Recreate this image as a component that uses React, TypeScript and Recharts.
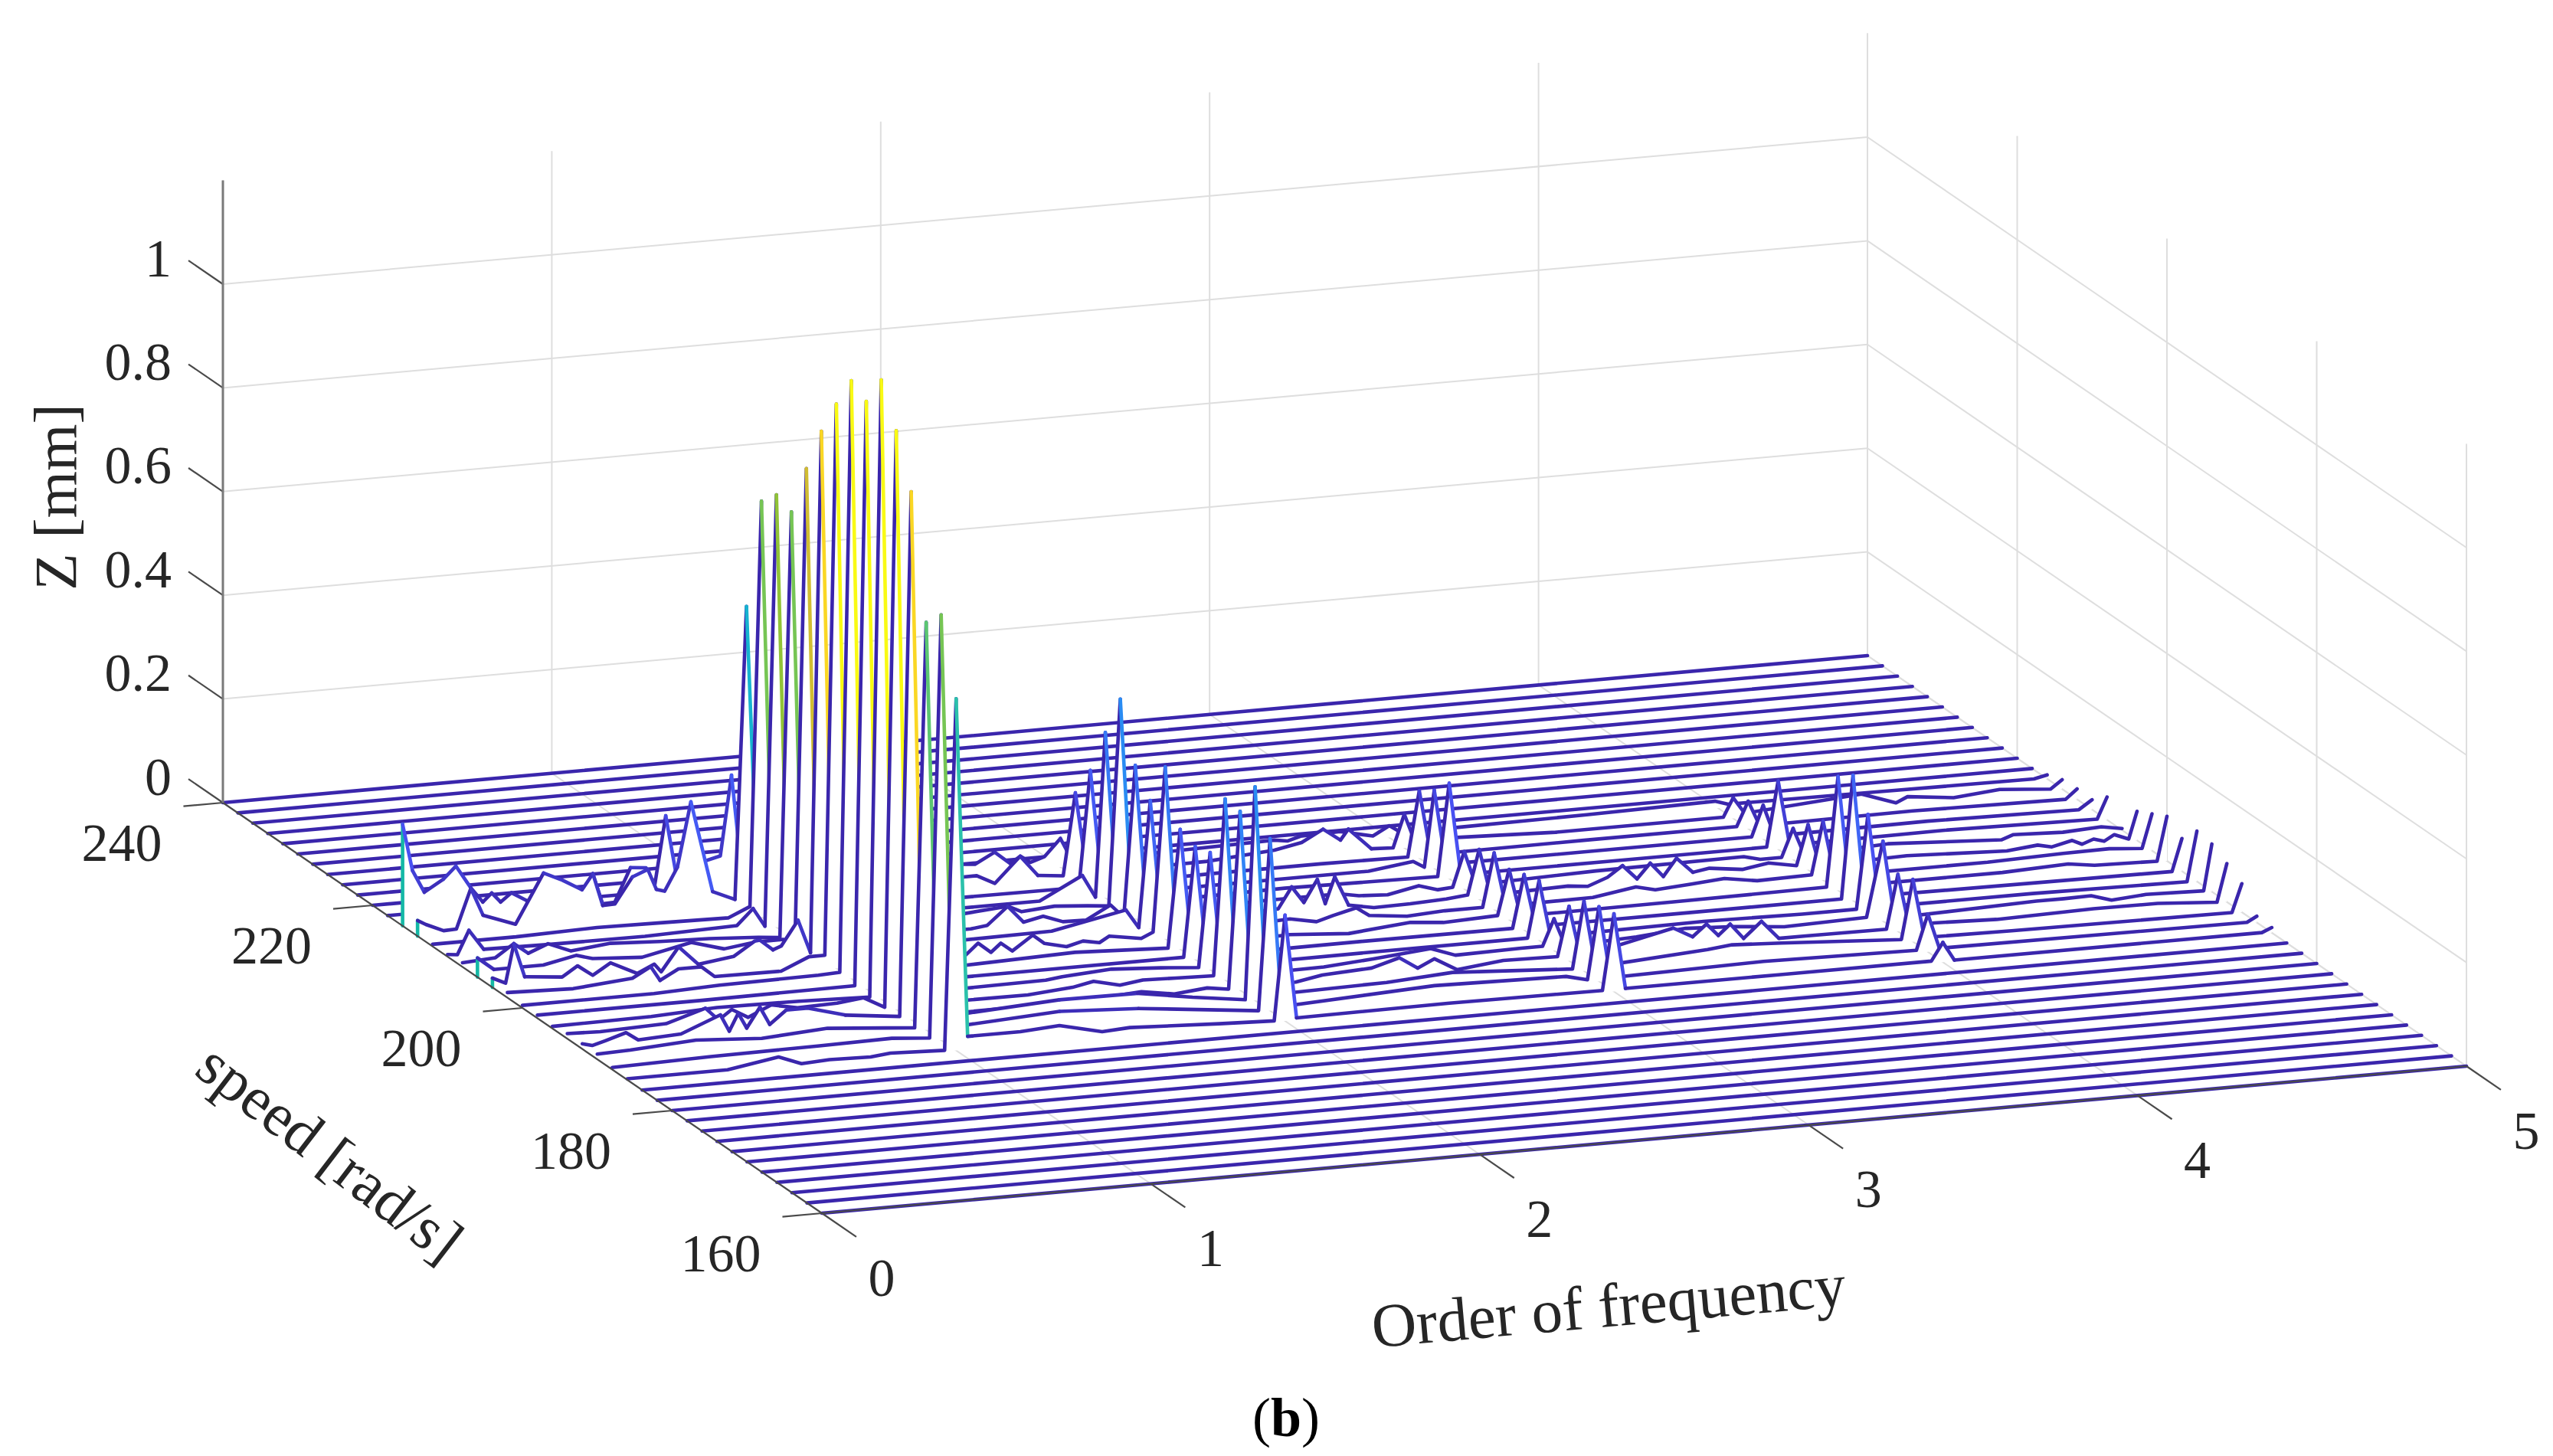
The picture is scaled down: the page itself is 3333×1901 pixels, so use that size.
import React from "react"
import { ComposedChart, Area, XAxis, YAxis, ReferenceDot } from "recharts"

type Pair = [number, number]

const speeds = [240, 238, 236, 234, 232, 230, 228, 226, 224, 222, 220, 218, 216, 214, 212, 210, 208, 206, 204, 202, 200, 198, 196, 194, 192, 190, 188, 186, 184, 182, 180, 178, 176, 174, 172, 170, 168, 166, 164, 162, 160]
const orderTicks = [0, 1, 2, 3, 4, 5]
const speedTicks = [240, 220, 200, 180, 160]
const zTicks = [0, 0.2, 0.4, 0.6, 0.8, 1]

// [order, Z], only the speeds with something on them
const s216: Pair[] = [[0, .196], [.03, .105], [.066, .061], [.124, .083], [.162, .106], [.207, .062], [.244, .032], [.271, .048], [.298, .029], [.331, .045], [.378, .027], [.431, .027], [.485, .006], [.545, .003], [.578, .068], [.608, .008], [.645, .009], [.693, .073], [.74, .07], [.766, .033], [.8, .167], [.83, .058], [.9, .07], [.966, .08], [1, .234], [1.035, .02], [1.4, .015], [1.706, .022], [1.74, .02], [1.8, .04], [1.848, .015], [1.878, .028], [1.908, .014], [1.952, .023], [2, .055], [2.02, .03], [2.06, .008], [2.65, .015], [2.69, .011], [2.73, .018], [2.85, .02], [2.95, .006], [3, .023], [3.035, .008], [3.21, .008], [3.6, .01], [3.99, .014], [4.03, .006], [4.5, .004], [4.96, .002], [5, .0075]]
const s214: Pair[] = [[0, .03], [.025, .021], [.079, .006], [.118, .007], [.162, .083], [.199, .029], [.298, .006], [.383, .1], [.44, .083], [.5, .061], [.533, .09], [.563, .027], [.6, .028], [.653, .077], [.7, .089], [.726, .049], [.751, .044], [.79, .088], [.831, .212], [.897, .035], [.965, .016], [1, .579], [1.035, .012], [1.4, .012], [1.66, .02], [1.7, .02], [1.755, .002], [1.832, .05], [1.886, .01], [1.963, .005], [2, .163], [2.035, .006], [2.4, .008], [2.605, .018], [2.688, .028], [2.753, .05], [2.806, .026], [2.83, .046], [2.9, .004], [2.966, .002], [3, .065], [3.035, .005], [3.16, .011], [3.46, .004], [3.97, .004], [4, .04], [4.035, .008], [4.39, .025], [4.495, .002], [4.53, .012], [4.67, .002], [4.81, .01], [4.965, .002], [5, .018]]
const s212: Pair[] = [[0, .004], [.254, .004], [.5, .008], [.7, .006], [.9, .004], [.965, .022], [1, .802], [1.035, .003], [1.614, .003], [1.965, .002], [2, .226], [2.035, .004], [2.4, .006], [2.7, .006], [2.965, .004], [3, .13], [3.035, .005], [3.5, .006], [3.965, .006], [4, .053], [4.035, .004], [4.5, .006], [4.965, .002], [5, .02]]
const s210: Pair[] = [[0, .004], [.03, .002], [.065, .047], [.11, .008], [.3, .006], [.6, .005], [.88, .01], [.929, .04], [.965, .004], [1, .834], [1.035, .004], [1.57, .005], [1.8, .005], [1.93, .047], [1.97, .003], [2, .319], [2.035, .005], [2.5, .006], [2.8, .006], [2.936, .017], [2.97, .004], [3, .151], [3.035, .006], [3.5, .006], [3.965, .006], [4, .065], [4.035, .004], [4.5, .006], [4.96, .002], [5, .019]]
const s208: Pair[] = [[0, .008], [.1, .012], [.156, .036], [.2, .015], [.26, .03], [.33, .012], [.45, .02], [.6, .015], [.75, .012], [.9, .006], [.965, .002], [1, .821], [1.035, .005], [1.4, .01], [1.658, .023], [1.7, .01], [1.8, .015], [1.9, .01], [1.965, .006], [2, .403], [2.035, .006], [2.5, .01], [2.965, .006], [3, .184], [3.035, .006], [3.5, .006], [3.965, .006], [4, .132], [4.035, .006], [4.5, .008], [4.97, .003], [5, .044]]
const s206: Pair[] = [[0, .037], [.05, .012], [.2, .012], [.3, .025], [.35, .016], [.5, .01], [.65, .03], [.75, .012], [.85, .02], [.93, .02], [.965, .005], [1, .924], [1.035, .006], [1.5, .008], [1.55, .012], [1.612, .045], [1.66, .012], [1.72, .02], [1.78, .006], [1.85, .005], [1.925, .03], [1.965, .004], [2, .295], [2.035, .006], [2.4, .012], [2.62, .012], [2.68, .005], [2.767, .002], [2.862, .014], [2.92, .003], [2.965, .005], [3, .072], [3.035, .006], [3.4, .012], [3.85, .014], [3.9, .006], [3.965, .006], [4, .06], [4.035, .006], [4.288, .014], [4.633, .002], [4.67, .01], [4.82, .006], [4.937, .01], [5, .003]]
const s204: Pair[] = [[0, .018], [.04, .006], [.065, .08], [.098, .015], [.212, .008], [.259, .027], [.305, .006], [.359, .027], [.44, .002], [.492, .017], [.513, .001], [.566, .046], [.626, .009], [.733, .018], [.797, .044], [.813, .045], [.853, .024], [.878, .03], [.929, .077], [.967, .012], [1, 1.016], [1.035, .006], [1.4, .01], [1.7, .012], [1.926, .04], [1.965, .004], [2, .247], [2.035, .006], [2.389, .016], [2.43, .056], [2.467, .024], [2.508, .066], [2.532, .018], [2.561, .068], [2.603, .011], [2.68, .002], [2.79, .003], [2.9, .006], [2.965, .01], [3, .096], [3.035, .006], [3.27, .01], [3.33, .006], [3.39, .02], [3.436, .04], [3.48, .012], [3.52, .04], [3.56, .012], [3.6, .045], [3.65, .015], [3.7, .02], [3.8, .012], [3.88, .02], [3.965, .01], [4, .087], [4.035, .006], [4.3, .01], [4.604, .002], [4.698, .008], [4.74, .002], [4.803, .011], [4.833, .002], [4.868, .01], [4.9, .004], [4.931, .015], [4.975, .004], [5, .056]]
const s202: Pair[] = [[0, .01], [.2, .006], [.38, .016], [.436, .035], [.464, .007], [.52, .026], [.59, .026], [.63, .005], [.832, .004], [.917, .027], [.965, .027], [1, 1.088], [1.035, .006], [1.393, .003], [1.431, .024], [1.47, .004], [1.5, .02], [1.535, .003], [1.597, .03], [1.633, .012], [1.7, .002], [1.75, .01], [1.8, .004], [1.83, .015], [1.927, .005], [1.963, .015], [2, .332], [2.035, .006], [2.379, .017], [2.46, .007], [2.51, .016], [2.581, .027], [2.62, .01], [2.735, .002], [2.85, .006], [2.965, .006], [3, .109], [3.035, .005], [3.3, .006], [3.431, .019], [3.49, .01], [3.6, .015], [3.7, .02], [3.8, .01], [3.965, .012], [4, .114], [4.035, .006], [4.5, .006], [4.73, .01], [4.87, .011], [4.97, .006], [5, .071]]
const s200: Pair[] = [[0, .005], [.4, .005], [.6, .01], [.9, .012], [.965, .014], [1, 1.153], [1.035, .006], [1.347, .006], [1.68, .012], [1.963, .004], [2, .231], [2.035, .004], [2.334, .009], [2.512, .001], [2.7, .012], [2.8, .006], [2.965, .01], [3, .097], [3.035, .005], [3.5, .006], [3.965, .008], [4, .22], [4.035, .006], [4.5, .006], [4.7, .011], [4.78, .004], [4.97, .001], [5, .086]]
const s198: Pair[] = [[0, .006], [.5, .006], [.965, .008], [1, 1.133], [1.035, .006], [1.5, .006], [1.965, .006], [2, .218], [2.035, .005], [2.5, .006], [2.965, .005], [3, .107], [3.035, .005], [3.5, .005], [3.965, .005], [4, .242], [4.035, .005], [4.97, .001], [5, .063]]
const s196: Pair[] = [[0, .004], [.3, .006], [.5, .012], [.75, .01], [.965, .006], [1, 1.194], [1.035, .005], [1.5, .008], [1.55, .012], [1.7, .018], [1.85, .012], [1.965, .006], [2, .226], [2.035, .005], [2.5, .006], [2.965, .006], [3, .115], [3.035, .005], [3.5, .008], [3.8, .005], [3.965, .005], [4, .186], [4.035, .005], [4.5, .005], [4.97, .001], [5, .097]]
const s194: Pair[] = [[0, .01], [.1, .008], [.3, .012], [.42, .035], [.46, .01], [.5, .028], [.55, .01], [.62, .03], [.7, .02], [.82, .022], [.9, .028], [.965, .006], [1, 1.116], [1.035, .006], [1.4, .005], [1.536, .012], [1.6, .02], [1.68, .008], [1.75, .014], [1.85, .012], [1.965, .01], [2, .349], [2.035, .006], [2.3, .008], [2.45, .015], [2.625, .025], [2.7, .008], [2.9, .01], [2.965, .01], [3, .061], [3.035, .006], [3.25, .012], [3.4, .02], [3.55, .015], [3.7, .006], [3.95, .01], [4, .154], [4.035, .004], [4.466, .012], [4.55, .012], [4.633, .013], [4.695, .001], [4.8, .006], [4.975, .003], [5, .092]]
const s192: Pair[] = [[0, .01], [.03, .005], [.07, .012], [.133, .024], [.17, .008], [.3, .012], [.42, .042], [.447, .009], [.474, .042], [.5, .012], [.54, .05], [.57, .015], [.62, .04], [.686, .04], [.8, .02], [.965, .008], [1, 1.018], [1.035, .005], [1.5, .006], [1.7, .014], [1.8, .004], [1.9, .01], [1.965, .004], [2, .345], [2.035, .005], [2.169, .006], [2.25, .015], [2.4, .02], [2.484, .035], [2.54, .012], [2.591, .027], [2.66, .002], [2.8, .012], [2.965, .01], [3, .105], [3.035, .005], [3.317, .045], [3.376, .025], [3.418, .047], [3.454, .023], [3.49, .043], [3.531, .013], [3.585, .043], [3.638, .007], [3.72, .007], [3.965, .006], [4, .11], [4.035, .004], [4.11, .01], [4.3, .006], [4.594, .01], [4.79, .009], [4.97, .001], [5, .074]]
const s190: Pair[] = [[0, .01], [.1, .012], [.3, .02], [.5, .012], [.7, .02], [.965, .006], [1, .786], [1.035, .01], [1.125, .025], [1.405, .035], [1.643, .034], [1.81, .017], [1.97, .003], [2, .412], [2.035, .008], [2.4, .012], [2.6, .02], [2.965, .006], [3, .135], [3.035, .006], [3.376, .02], [3.45, .025], [3.6, .02], [3.965, .006], [4, .12], [4.035, .006], [4.3, .004], [4.97, .001], [5, .055]]
const s188: Pair[] = [[0, .004], [.3, .008], [.63, .01], [.85, .012], [.965, .006], [1, .82], [1.035, .012], [1.08, .025], [1.36, .035], [1.6, .027], [1.965, .002], [2, .332], [2.035, .006], [2.5, .02], [2.9, .015], [2.965, .005], [3, .144], [3.035, .005], [3.5, .01], [3.965, .005], [4, .073], [4.035, .005], [4.97, .002], [5, .012]]
const s186: Pair[] = [[0, .002], [.305, .002], [.46, .018], [.53, .001], [.615, .004], [.74, .002], [.8, .006], [.965, .002], [1, .678], [1.035, .025], [1.195, .025], [1.314, .03], [1.444, .011], [1.528, .014], [1.8, .006], [1.967, .002], [2, .204], [2.035, .004], [2.5, .006], [2.965, .004], [3, .15], [3.035, .004], [3.5, .004], [3.965, .004], [4, .038], [4.035, .002], [4.97, .002], [5, .01]]
const flatRow: Pair[] = [[0, 0], [5, 0]]

const rowsBySpeed: Record<number, Pair[]> = {
  216: s216, 214: s214, 212: s212, 210: s210, 208: s208, 206: s206, 204: s204, 202: s202,
  200: s200, 198: s198, 196: s196, 194: s194, 192: s192, 190: s190, 188: s188, 186: s186,
}

const W = 3333
const H = 1901

// MATLAB view of the box, pixels per unit of order, speed and Z
const project = (order: number, speed: number, z: number) => ({
  x: 291 + 429.4 * order + 9.775 * (240 - speed),
  y: 1048 - 38.4 * order + 6.7 * (240 - speed) - 677 * z,
})

const parulaStops = [
  [0, 58, 38, 172], [0.167, 72, 82, 244], [0.333, 46, 135, 247], [0.5, 18, 177, 214],
  [0.667, 55, 200, 151], [0.78, 150, 195, 50], [0.88, 250, 185, 50], [1, 249, 250, 20],
]

const parula = (t: number) => {
  const v = Math.max(0, Math.min(1, t))
  for (let i = 1; i < parulaStops.length; i++) {
    const a = parulaStops[i - 1]
    const b = parulaStops[i]
    if (v <= b[0]) {
      const k = (v - a[0]) / (b[0] - a[0])
      return `rgb(${[1, 2, 3].map((c) => Math.round(a[c] + (b[c] - a[c]) * k)).join(",")})`
    }
  }
  return "rgb(249,250,20)"
}

const CURTAIN = "#14b8a6"
const LEVELS = 32
const CLIM = 1.1

type Seg = { color: string; data: { x: number; y: number }[] }

// a waterfall edge takes the colour of the vertex it starts from
const rowSegments = (speed: number, row: Pair[]): Seg[] => {
  const segs: Seg[] = []
  const first = row[0]
  if (first[1] > 0.01) {
    segs.push({ color: CURTAIN, data: [project(first[0], speed, 0), project(first[0], speed, first[1])] })
  }
  let level = -1
  for (let i = 0; i < row.length - 1; i++) {
    const l = Math.min(LEVELS - 1, Math.floor((row[i][1] / CLIM) * LEVELS))
    const p = project(row[i + 1][0], speed, row[i + 1][1])
    if (l !== level) {
      segs.push({ color: parula(l / (LEVELS - 1)), data: [project(row[i][0], speed, row[i][1]), p] })
      level = l
    } else {
      segs[segs.length - 1].data.push(p)
    }
  }
  return segs
}

const rowFill = (speed: number, row: Pair[]) =>
  row.map(([o, z]) => {
    const top = project(o, speed, z)
    return { x: top.x, band: [top.y, project(o, speed, 0).y] }
  })

const seg = (a: { x: number; y: number }, b: { x: number; y: number }) => [a, b]

const gridLines = [
  ...orderTicks.map((o) => seg(project(o, 240, 0), project(o, 240, 1.2))),
  ...zTicks.map((z) => seg(project(0, 240, z), project(5, 240, z))),
  ...speedTicks.map((s) => seg(project(5, s, 0), project(5, s, 1.2))),
  ...zTicks.map((z) => seg(project(5, 240, z), project(5, 160, z))),
  ...orderTicks.map((o) => seg(project(o, 240, 0), project(o, 160, 0))),
]

const axisLines = [
  ...zTicks.map((z) => seg(project(0, 240, z), project(0, 244.6, z))),
  ...speedTicks.map((s) => seg(project(0, s, 0), project(-0.12, s, 0))),
  ...orderTicks.map((o) => seg(project(o, 160, 0), project(o, 155.4, 0))),
  seg(project(0, 240, 0), project(0, 160, 0)),
  seg(project(0, 160, 0), project(5, 160, 0)),
]

const FONT = "'Liberation Serif', 'Times New Roman', serif"
const TEXT = "#262626"

type Label = { text: string; x: number; y: number; anchor?: string; angle?: number; size?: number }

const labels: Label[] = [
  ...zTicks.map((z) => {
    const p = project(0, 240, z)
    return { text: String(z), x: p.x - 67, y: p.y - 34, anchor: "end" }
  }),
  ...speedTicks.map((s) => {
    const p = project(0, s, 0)
    return { text: String(s), x: p.x - 132, y: p.y + 52 }
  }),
  ...orderTicks.map((o) => {
    const p = project(o, 160, 0)
    return { text: String(o), x: p.x + 78, y: p.y + 84 }
  }),
  { text: "Z [mm]", x: 72, y: 649, angle: -90, size: 79 },
  { text: "speed [rad/s]", x: 431, y: 1505, angle: 37.5, size: 80 },
  { text: "Order of frequency", x: 2100, y: 1705, angle: -5.1, size: 81 },
]

export default function App() {
  return (
    <div style={{ position: "fixed", left: 0, top: 0, width: W, height: H, background: "#fff" }}>
      <ComposedChart width={W} height={H} margin={{ top: 0, right: 0, bottom: 0, left: 0 }}>
        <XAxis type="number" dataKey="x" domain={[0, W]} hide allowDataOverflow />
        <YAxis type="number" domain={[0, H]} reversed hide allowDataOverflow />

        {gridLines.map((d, i) => (
          <Area key={`g${i}`} data={d} dataKey="y" type="linear" fill="none" stroke="#dedede" strokeWidth={2} dot={false} activeDot={false} isAnimationActive={false} />
        ))}

        {speeds.flatMap((s) => {
          const row = rowsBySpeed[s] ?? flatRow
          return [
            <Area key={`f${s}`} data={rowFill(s, row)} dataKey="band" type="linear" fill="#fff" fillOpacity={1} stroke="none" dot={false} activeDot={false} isAnimationActive={false} />,
            ...rowSegments(s, row).map((g, i) => (
              <Area key={`r${s}-${i}`} data={g.data} dataKey="y" type="linear" fill="none" stroke={g.color} strokeWidth={4.6} strokeLinecap="round" strokeLinejoin="round" dot={false} activeDot={false} isAnimationActive={false} />
            )),
          ]
        })}

        {axisLines.map((d, i) => (
          <Area key={`a${i}`} data={d} dataKey="y" type="linear" fill="none" stroke="#4a4a4a" strokeWidth={2.2} dot={false} activeDot={false} isAnimationActive={false} />
        ))}
        <Area data={seg(project(0, 240, 0), project(0, 240, 1.2))} dataKey="y" type="linear" fill="none" stroke="#7a7a7a" strokeWidth={3} dot={false} activeDot={false} isAnimationActive={false} />

        {labels.map((l) => (
          <ReferenceDot
            key={l.text}
            x={l.x}
            y={l.y}
            r={0}
            ifOverflow="visible"
            shape={(p: any) => (
              <text
                x={p.cx}
                y={p.cy}
                fill={TEXT}
                fontFamily={FONT}
                fontSize={l.size ?? 70}
                textAnchor={l.anchor ?? "middle"}
                dominantBaseline="central"
                transform={l.angle ? `rotate(${l.angle} ${p.cx} ${p.cy})` : undefined}
              >
                {l.text}
              </text>
            )}
          />
        ))}
        <ReferenceDot
          x={1679}
          y={1851}
          r={0}
          ifOverflow="visible"
          shape={(p: any) => (
            <text x={p.cx} y={p.cy} fill="#000" fontFamily={FONT} fontSize={72} textAnchor="middle" dominantBaseline="central">
              (<tspan fontWeight="bold">b</tspan>)
            </text>
          )}
        />
      </ComposedChart>
    </div>
  )
}
